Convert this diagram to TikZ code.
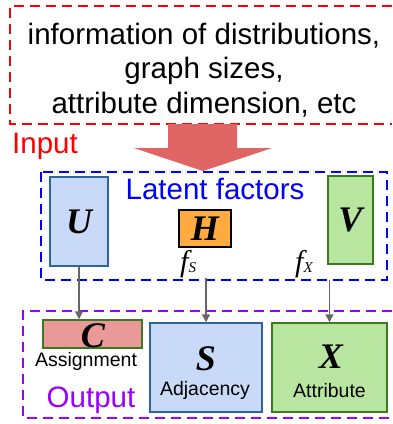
\documentclass[tikz,border=0pt]{standalone}
\usepackage{fontspec}
\setmainfont{Liberation Sans}
\newfontfamily\tms{Liberation Serif}
\usetikzlibrary{arrows.meta}
\definecolor{cred}{HTML}{FF0000}
\definecolor{cblue}{HTML}{0000FF}
\definecolor{cpurple}{HTML}{9900FF}
\definecolor{carrow}{HTML}{E06666}
\definecolor{lblue}{HTML}{C9DAF8}
\definecolor{dblue}{HTML}{2E65A0}
\definecolor{lgreen}{HTML}{B8E6A0}
\definecolor{dgreen}{HTML}{3C7A22}
\definecolor{corange}{HTML}{FFAB40}
\definecolor{cpink}{HTML}{EA9999}
\definecolor{cgray}{HTML}{666666}
\tikzset{
  dashbox/.style={line width=2.5pt, dash pattern=on 10pt off 6pt},
  letter/.style={inner sep=0pt, font=\fontsize{36}{36}\tms\bfseries\itshape},
  bigtext/.style={inner sep=0pt, font=\fontsize{29.5}{34.5}\selectfont},
  smalltext/.style={inner sep=0pt, font=\fontsize{19.5}{20}\selectfont},
  box/.style={draw, line width=1.5pt, inner sep=0pt},
  conn/.style={draw=cgray, line width=1.5pt, -{Triangle[length=8pt,width=8pt]}}
}
\begin{document}
\begin{tikzpicture}[x=1pt,y=-1pt]
\useasboundingbox (0,0) rectangle (392,424);
\fill[white] (0,0) rectangle (392,424);

% input box (open on the right, cut by the picture edge)
\draw[dashbox, cred] (392,6) -- (10,6) -- (10,124) -- (392,124);
\node[bigtext, align=center] (info) at (204,70) {information of distributions,\\graph sizes,\\attribute dimension, etc};
\node[bigtext, text=cred, anchor=base west] (input) at (12,153) {Input};

% big arrow
\fill[carrow] (168,124) -- (237,124) -- (237,148) -- (272,148) -- (203,171) -- (134,148) -- (168,148) -- cycle;

% latent factors
\draw[dashbox, cblue] (41,172) rectangle (387,280);
\node[bigtext, text=cblue, anchor=base] (latent) at (215,199) {Latent factors};
\node[box, draw=dblue, fill=lblue, minimum width=58pt, minimum height=89pt] (U) at (79,221.5) {};
\node[letter] (Ut) at (U.center) {U};
\node[box, draw=black, fill=corange, minimum width=52pt, minimum height=37pt] (H) at (205,228.5) {};
\node[letter] (Ht) at (H.center) {H};
\node[box, draw=dgreen, fill=lgreen, minimum width=45pt, minimum height=88pt] (V) at (350.5,220) {};
\node[letter] (Vt) at (V.center) {V};
\node[inner sep=0pt, anchor=base west] (fS) at (180,271) {\fontsize{30}{30}\tms\itshape f\raisebox{-1.5pt}{\fontsize{15}{15}\selectfont S}};
\node[inner sep=0pt, anchor=base west] (fX) at (295,271) {\fontsize{30}{30}\tms\itshape f\raisebox{-1.5pt}{\fontsize{15}{15}\selectfont X}};
\coordinate (sS) at (206,278);
\coordinate (sX) at (329.5,280);

% output (open on the right, cut by the picture edge)
\draw[dashbox, cpurple] (392,311) -- (23,311) -- (23,418) -- (392,418);
\node[box, draw=dgreen, fill=cpink, minimum width=99pt, minimum height=28pt] (C) at (92.5,334) {};
\node[letter, anchor=base, text depth=0pt] (Ct) at (93,347) {C};
\node[smalltext, anchor=base, text height=14pt] (assign) at (86,366) {Assignment};
\node[bigtext, text=cpurple, anchor=base] (output) at (91,407) {Output};
\node[box, draw=dblue, fill=lblue, minimum width=112pt, minimum height=89pt] (S) at (206,367.5) {};
\node[letter, anchor=base] (St) at (206,370) {S};
\node[smalltext, anchor=base] (adj) at (205,395) {Adjacency};
\node[box, draw=dgreen, fill=lgreen, minimum width=115pt, minimum height=89pt] (X) at (329.5,367.5) {};
\node[letter, anchor=base] (Xt) at (331,368) {X};
\node[smalltext, anchor=base] (attr) at (329.5,397) {Attribute};

% connectors
\draw[conn] (U.south) -- (U.south |- C.north);
\draw[conn] (sS) -- (S.north);
\draw[conn] (sX) -- (X.north);
\end{tikzpicture}
\end{document}
